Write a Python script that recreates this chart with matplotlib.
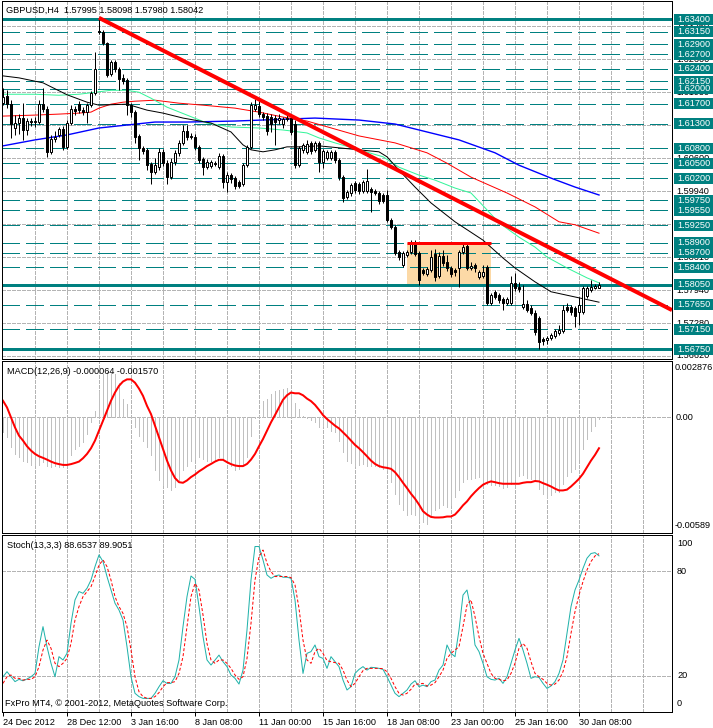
"""GBPUSD H4 chart with MACD and stochastic panes, MT4 style."""

import matplotlib
matplotlib.use('Agg')
import matplotlib.pyplot as plt
from matplotlib.patches import Rectangle
import numpy as np

plt.rcParams['font.family'] = ['Liberation Sans', 'DejaVu Sans']

opens = [
    1.6171, 1.6186, 1.6169, 1.6121, 1.6131, 1.6141, 1.6117, 1.6135, 1.6133, 1.6133,
    1.6169, 1.6159, 1.6073, 1.6099, 1.6107, 1.6119, 1.6083, 1.6131, 1.6159, 1.6169,
    1.6157, 1.6153, 1.6167, 1.6192, 1.6316, 1.6314, 1.6292, 1.6230, 1.6254, 1.6240,
    1.6222, 1.6218, 1.6167, 1.6153, 1.6105, 1.6081, 1.6077, 1.6048, 1.6032, 1.6042,
    1.6073, 1.6050, 1.6022, 1.6052, 1.6071, 1.6091, 1.6115, 1.6103, 1.6103, 1.6083,
    1.6058, 1.6042, 1.6044, 1.6050, 1.6042, 1.6065, 1.6012, 1.6026, 1.6020, 1.6012,
    1.6008, 1.6046, 1.6083, 1.6159, 1.6165, 1.6149, 1.6145, 1.6143, 1.6141, 1.6137,
    1.6129, 1.6139, 1.6141, 1.6129, 1.6046, 1.6077, 1.6073, 1.6091, 1.6077, 1.6091,
    1.6052, 1.6060, 1.6060, 1.6073, 1.6056, 1.6022, 1.5982, 1.5990, 1.6010, 1.6008,
    1.5994, 1.5994, 1.5998, 1.5994, 1.5990, 1.5986, 1.5986, 1.5936, 1.5922, 1.5871,
    1.5845, 1.5865, 1.5871, 1.5891, 1.5869, 1.5835, 1.5827, 1.5835, 1.5867, 1.5823,
    1.5863, 1.5851, 1.5839, 1.5835, 1.5839, 1.5871, 1.5883, 1.5839, 1.5845, 1.5821,
    1.5823, 1.5841, 1.5768, 1.5790, 1.5784, 1.5776, 1.5768, 1.5768, 1.5809, 1.5801,
    1.5760, 1.5766, 1.5758, 1.5748, 1.5738, 1.5696, 1.5694, 1.5698, 1.5702, 1.5708,
    1.5712, 1.5760, 1.5760, 1.5758, 1.5750, 1.5750, 1.5783, 1.5795, 1.5799, 1.57995,
]
highs = [
    1.6202, 1.6198, 1.6177, 1.6147, 1.6149, 1.6171, 1.6141, 1.6141, 1.6143, 1.6177,
    1.6202, 1.6165, 1.6107, 1.6115, 1.6123, 1.6125, 1.6137, 1.6167, 1.6165, 1.6175,
    1.6163, 1.6171, 1.6196, 1.6274, 1.6343, 1.6319, 1.6294, 1.6258, 1.6258, 1.6244,
    1.6230, 1.6222, 1.6171, 1.6157, 1.6109, 1.6085, 1.6081, 1.6052, 1.6060, 1.6081,
    1.6079, 1.6056, 1.6060, 1.6077, 1.6097, 1.6127, 1.6127, 1.6111, 1.6109, 1.6087,
    1.6062, 1.6058, 1.6056, 1.6054, 1.6071, 1.6069, 1.6032, 1.6030, 1.6024, 1.6016,
    1.6050, 1.6087, 1.6173, 1.6179, 1.6179, 1.6153, 1.6151, 1.6149, 1.6147, 1.6149,
    1.6143, 1.6147, 1.6145, 1.6137, 1.6085, 1.6091, 1.6097, 1.6095, 1.6095, 1.6095,
    1.6079, 1.6077, 1.6077, 1.6077, 1.6060, 1.6026, 1.5996, 1.6010, 1.6014, 1.6012,
    1.6016, 1.6038, 1.6002, 1.5998, 1.5994, 1.5990, 1.5996, 1.5940, 1.5926, 1.5875,
    1.5873, 1.5875, 1.5895, 1.5895, 1.5873, 1.5839, 1.5841, 1.5875, 1.5877, 1.5871,
    1.5875, 1.5865, 1.5843, 1.5839, 1.5875, 1.5889, 1.5887, 1.5851, 1.5849, 1.5835,
    1.5845, 1.5845, 1.5788, 1.5794, 1.5788, 1.5780, 1.5780, 1.5823, 1.5829, 1.5811,
    1.5805, 1.5774, 1.5764, 1.5754, 1.5742, 1.5700, 1.5702, 1.5708, 1.5716, 1.5724,
    1.5764, 1.5768, 1.5764, 1.5762, 1.5780, 1.5803, 1.5803, 1.5815, 1.5807, 1.58098,
]
lows = [
    1.6167, 1.6161, 1.6101, 1.6107, 1.6109, 1.6097, 1.6107, 1.6125, 1.6123, 1.6129,
    1.6153, 1.6063, 1.6069, 1.6093, 1.6103, 1.6077, 1.6079, 1.6127, 1.6147, 1.6151,
    1.6147, 1.6131, 1.6163, 1.6188, 1.6310, 1.6288, 1.6224, 1.6226, 1.6234, 1.6198,
    1.6210, 1.6147, 1.6143, 1.6091, 1.6056, 1.6069, 1.6036, 1.6008, 1.6028, 1.6036,
    1.6044, 1.6008, 1.6018, 1.6046, 1.6065, 1.6087, 1.6097, 1.6099, 1.6077, 1.6050,
    1.6026, 1.6038, 1.6040, 1.6044, 1.6038, 1.6000, 1.5992, 1.6010, 1.5998, 1.6000,
    1.6004, 1.6042, 1.6079, 1.6155, 1.6143, 1.6137, 1.6107, 1.6113, 1.6087, 1.6129,
    1.6121, 1.6135, 1.6107, 1.6040, 1.6042, 1.6071, 1.6069, 1.6069, 1.6073, 1.6032,
    1.6040, 1.6056, 1.6056, 1.6050, 1.6016, 1.5972, 1.5978, 1.5984, 1.5990, 1.5988,
    1.5990, 1.5990, 1.5952, 1.5986, 1.5968, 1.5970, 1.5932, 1.5918, 1.5865, 1.5855,
    1.5841, 1.5861, 1.5867, 1.5863, 1.5805, 1.5825, 1.5823, 1.5831, 1.5813, 1.5819,
    1.5843, 1.5833, 1.5821, 1.5823, 1.5801, 1.5867, 1.5835, 1.5835, 1.5831, 1.5817,
    1.5819, 1.5764, 1.5764, 1.5776, 1.5768, 1.5754, 1.5764, 1.5764, 1.5792, 1.5790,
    1.5756, 1.5750, 1.5744, 1.5704, 1.5676, 1.5684, 1.5686, 1.5694, 1.5698, 1.5704,
    1.5708, 1.5750, 1.5744, 1.5720, 1.5724, 1.5746, 1.5778, 1.5790, 1.5797, 1.57980,
]
closes = [
    1.6183, 1.6169, 1.6129, 1.6131, 1.6141, 1.6117, 1.6135, 1.6133, 1.6135, 1.6169,
    1.6159, 1.6073, 1.6099, 1.6103, 1.6119, 1.6083, 1.6131, 1.6159, 1.6155, 1.6157,
    1.6153, 1.6167, 1.6192, 1.6240, 1.6314, 1.6292, 1.6228, 1.6254, 1.6240, 1.6220,
    1.6216, 1.6167, 1.6153, 1.6103, 1.6081, 1.6075, 1.6046, 1.6032, 1.6046, 1.6073,
    1.6050, 1.6022, 1.6052, 1.6071, 1.6091, 1.6115, 1.6103, 1.6105, 1.6083, 1.6056,
    1.6042, 1.6052, 1.6052, 1.6048, 1.6065, 1.6012, 1.6026, 1.6018, 1.6004, 1.6004,
    1.6046, 1.6083, 1.6167, 1.6167, 1.6149, 1.6143, 1.6115, 1.6129, 1.6133, 1.6141,
    1.6139, 1.6141, 1.6113, 1.6046, 1.6081, 1.6087, 1.6089, 1.6075, 1.6091, 1.6052,
    1.6075, 1.6073, 1.6073, 1.6056, 1.6022, 1.5980, 1.5992, 1.6006, 1.5996, 1.5994,
    1.6012, 1.6014, 1.5992, 1.5990, 1.5974, 1.5974, 1.5936, 1.5922, 1.5869, 1.5861,
    1.5869, 1.5871, 1.5891, 1.5867, 1.5815, 1.5829, 1.5837, 1.5861, 1.5821, 1.5863,
    1.5849, 1.5839, 1.5827, 1.5831, 1.5871, 1.5881, 1.5839, 1.5843, 1.5839, 1.5831,
    1.5831, 1.5768, 1.5784, 1.5780, 1.5774, 1.5768, 1.5776, 1.5809, 1.5799, 1.5797,
    1.5766, 1.5754, 1.5748, 1.5710, 1.5690, 1.5692, 1.5698, 1.5704, 1.5712, 1.5714,
    1.5754, 1.5754, 1.5750, 1.5742, 1.5764, 1.5799, 1.5799, 1.5801, 1.5803, 1.58042,
]

# moving averages, read at a few bars each
black_ma_bars = [0, 4, 10, 16, 21, 24, 31, 36, 40, 45, 52, 57, 60, 62, 65, 68, 71, 74,
                 79, 84, 94, 96, 99, 103, 107, 113, 120, 125, 128, 133, 137, 145, 149]
black_ma = [1.6226, 1.6222, 1.6212, 1.6188, 1.6173, 1.6167, 1.6169, 1.6157, 1.6151,
            1.6141, 1.6131, 1.6113, 1.6087, 1.6077, 1.6073, 1.6077, 1.6083, 1.6083,
            1.6085, 1.6081, 1.6073, 1.6063, 1.6036, 1.6002, 1.5970, 1.5932, 1.5895,
            1.5859, 1.5839, 1.5811, 1.5791, 1.5777, 1.5770]
green_ma_bars = [0, 8, 14, 19, 23, 27, 31, 34, 37, 41, 46, 51, 57, 64, 70, 76, 79, 83,
                 89, 95, 99, 104, 108, 113, 117, 121, 124, 129, 133, 136, 141, 146, 149]
green_ma = [1.6189, 1.6189, 1.6187, 1.6189, 1.6193, 1.6197, 1.6197, 1.6193, 1.6181,
            1.6163, 1.6147, 1.6131, 1.6123, 1.6121, 1.6117, 1.6111, 1.6101, 1.6091,
            1.6077, 1.6063, 1.6042, 1.6026, 1.6016, 1.6000, 1.5990, 1.5956, 1.5930,
            1.5901, 1.5881, 1.5861, 1.5839, 1.5819, 1.5809]
red_ma_bars = [0, 8, 14, 19, 22, 24, 27, 30, 33, 38, 44, 50, 58, 64, 70, 76, 89, 98,
               106, 111, 117, 126, 133, 139, 143, 149]
red_ma = [1.6145, 1.6147, 1.6149, 1.6151, 1.6153, 1.6161, 1.6169, 1.6173, 1.6175,
          1.6177, 1.6171, 1.6167, 1.6161, 1.6153, 1.6143, 1.6135, 1.6105, 1.6091,
          1.6071, 1.6050, 1.6022, 1.5990, 1.5962, 1.5932, 1.5926, 1.5909]
blue_ma_bars = [0, 8, 16, 24, 31, 38, 46, 58, 78, 89, 98, 106, 114, 123, 129, 137, 143, 149]
blue_ma = [1.6085, 1.6097, 1.6107, 1.6121, 1.6127, 1.6133, 1.6133, 1.6135, 1.6141,
           1.6137, 1.6129, 1.6113, 1.6097, 1.6071, 1.6046, 1.6020, 1.6002, 1.5986]

levels = [1.6340, 1.6315, 1.6290, 1.6270, 1.6240, 1.6215, 1.6200, 1.6170, 1.6130,
          1.6080, 1.6050, 1.6020, 1.5975, 1.5955, 1.5925, 1.5890, 1.5870, 1.5840,
          1.5805, 1.5765, 1.5715, 1.5675]
strong_levels = [1.6340, 1.5805, 1.5675]
grid_prices = [1.6326, 1.6260, 1.6193, 1.6127, 1.6060, 1.5994, 1.5927, 1.5861,
               1.5794, 1.5728, 1.5662]

trend_bars = [24, 167.25]
trend_prices = [1.6343, 1.5754]
box_bars = [101, 122]
box_prices = [1.5805, 1.5890]

macd_main = [
    -0.00076, -0.00101, -0.00152, -0.00186, -0.00203, -0.00220, -0.00228, -0.00242, -0.00242, -0.00242,
    -0.00228, -0.00248, -0.00254, -0.00248, -0.00254, -0.00254, -0.00237, -0.00194, -0.00161, -0.00144,
    -0.00127, -0.00085, -0.00025, 0.00034, 0.00135, 0.00220, 0.00232, 0.00225, 0.00220, 0.00177,
    0.00093, 0.00068, -0.00003, -0.00051, -0.00093, -0.00118, -0.00152, -0.00194, -0.00270, -0.00321,
    -0.00346, -0.00355, -0.00372, -0.00355, -0.00321, -0.00270, -0.00245, -0.00220, -0.00211, -0.00203,
    -0.00211, -0.00220, -0.00220, -0.00220, -0.00203, -0.00211, -0.00228, -0.00245, -0.00270, -0.00262,
    -0.00237, -0.00203, -0.00093, -0.00002, 0.00008, 0.00085, 0.00093, 0.00118, 0.00135, 0.00140,
    0.00147, 0.00152, 0.00118, 0.00076, 0.00042, 0.00005, -0.00005, -0.00012, -0.00025, -0.00051,
    -0.00042, -0.00051, -0.00068, -0.00073, -0.00118, -0.00174, -0.00220, -0.00232, -0.00248, -0.00242,
    -0.00237, -0.00245, -0.00248, -0.00245, -0.00254, -0.00262, -0.00270, -0.00330, -0.00389, -0.00439,
    -0.00473, -0.00495, -0.00490, -0.00499, -0.00529, -0.00532, -0.00541, -0.00507, -0.00473, -0.00461,
    -0.00448, -0.00456, -0.00448, -0.00406, -0.00372, -0.00330, -0.00313, -0.00313, -0.00309, -0.00304,
    -0.00330, -0.00338, -0.00346, -0.00346, -0.00350, -0.00360, -0.00355, -0.00338, -0.00313, -0.00296,
    -0.00292, -0.00309, -0.00316, -0.00326, -0.00363, -0.00389, -0.00411, -0.00397, -0.00380, -0.00380,
    -0.00338, -0.00299, -0.00279, -0.00262, -0.00211, -0.00161, -0.00110, -0.00068, -0.00042, -0.000064,
]
macd_signal = [
    0.00085, 0.00051, 0.00000, -0.00051, -0.00093, -0.00118, -0.00147, -0.00169, -0.00186, -0.00198,
    -0.00206, -0.00215, -0.00225, -0.00233, -0.00238, -0.00242, -0.00242, -0.00238, -0.00232, -0.00225,
    -0.00208, -0.00186, -0.00157, -0.00118, -0.00068, -0.00017, 0.00034, 0.00085, 0.00127, 0.00161,
    0.00183, 0.00194, 0.00194, 0.00177, 0.00147, 0.00110, 0.00059, 0.00017, -0.00042, -0.00101,
    -0.00161, -0.00220, -0.00270, -0.00309, -0.00330, -0.00333, -0.00321, -0.00304, -0.00291, -0.00275,
    -0.00262, -0.00248, -0.00237, -0.00225, -0.00216, -0.00216, -0.00228, -0.00238, -0.00245, -0.00248,
    -0.00248, -0.00237, -0.00215, -0.00186, -0.00147, -0.00110, -0.00068, -0.00025, 0.00012, 0.00051,
    0.00090, 0.00113, 0.00127, 0.00123, 0.00123, 0.00113, 0.00096, 0.00083, 0.00064, 0.00039,
    0.00012, -0.00008, -0.00025, -0.00042, -0.00056, -0.00076, -0.00096, -0.00118, -0.00140, -0.00157,
    -0.00177, -0.00198, -0.00220, -0.00237, -0.00248, -0.00254, -0.00257, -0.00262, -0.00279, -0.00304,
    -0.00333, -0.00360, -0.00389, -0.00414, -0.00444, -0.00478, -0.00495, -0.00507, -0.00510, -0.00510,
    -0.00509, -0.00505, -0.00505, -0.00495, -0.00473, -0.00448, -0.00428, -0.00402, -0.00380, -0.00360,
    -0.00343, -0.00333, -0.00326, -0.00330, -0.00335, -0.00338, -0.00338, -0.00338, -0.00338, -0.00338,
    -0.00333, -0.00330, -0.00330, -0.00324, -0.00326, -0.00335, -0.00343, -0.00352, -0.00363, -0.00372,
    -0.00372, -0.00368, -0.00352, -0.00333, -0.00313, -0.00287, -0.00254, -0.00220, -0.00191, -0.00157,
]
stoch_k = [
    19.4, 22.3, 19.4, 16.6, 17.9, 17.1, 18.1, 19.4, 21.3, 36.6,
    48.1, 36.6, 27.1, 19.4, 30.9, 29.0, 32.8, 50.0, 63.4, 68.2,
    67.2, 70.1, 74.8, 82.5, 89.2, 85.4, 76.8, 69.1, 61.5, 57.6,
    51.9, 36.6, 19.4, 9.9, 8.0, 7.0, 7.0, 7.0, 9.9, 13.7,
    17.1, 15.6, 15.6, 19.4, 29.0, 48.1, 65.3, 77.1, 75.2, 59.6,
    42.4, 29.0, 26.1, 29.0, 31.8, 28.0, 25.2, 20.4, 18.5, 15.2,
    23.2, 46.2, 74.8, 94.0, 94.0, 86.3, 77.7, 75.8, 77.1, 77.7,
    76.4, 76.4, 75.8, 63.4, 40.4, 21.3, 32.8, 33.8, 37.6, 30.9,
    29.9, 24.2, 30.9, 28.0, 25.2, 17.5, 11.8, 13.7, 21.3, 23.6,
    25.2, 23.2, 24.8, 24.6, 24.2, 23.6, 19.4, 14.6, 9.9, 8.0,
    9.9, 11.8, 15.2, 17.1, 13.7, 14.6, 13.7, 16.6, 17.5, 23.2,
    26.1, 37.6, 32.8, 30.9, 46.2, 66.2, 69.1, 57.6, 37.6, 33.8,
    27.1, 19.4, 17.9, 17.5, 18.5, 15.6, 19.4, 27.1, 34.7, 41.4,
    34.7, 27.1, 18.5, 19.4, 19.0, 15.6, 12.7, 14.1, 16.6, 21.3,
    29.0, 44.3, 59.6, 69.1, 74.8, 81.5, 87.3, 90.0, 90.5, 88.65,
]
stoch_d = [
    15.6, 19.4, 20.4, 18.5, 18.5, 17.5, 17.9, 17.9, 19.4, 25.2,
    34.7, 40.4, 35.7, 27.1, 25.2, 27.1, 29.9, 38.5, 51.9, 59.6,
    65.3, 68.2, 71.0, 76.8, 83.4, 86.3, 82.5, 74.8, 65.3, 59.6,
    55.7, 48.1, 34.7, 19.4, 10.8, 8.0, 7.0, 7.0, 8.0, 10.3,
    13.7, 16.0, 16.0, 16.6, 21.3, 30.9, 48.1, 65.3, 72.9, 69.1,
    54.8, 38.5, 29.0, 27.1, 29.0, 29.0, 27.1, 24.2, 20.4, 17.9,
    19.4, 29.9, 50.0, 74.8, 88.2, 92.0, 84.4, 79.6, 76.8, 76.8,
    76.8, 76.8, 76.2, 72.0, 58.6, 40.4, 29.0, 27.1, 33.8, 35.7,
    32.8, 28.6, 28.0, 27.5, 27.1, 23.2, 17.5, 13.7, 15.6, 19.4,
    22.9, 24.2, 24.2, 24.2, 24.2, 24.0, 22.3, 18.5, 13.7, 9.9,
    8.9, 9.9, 12.2, 15.2, 15.2, 15.6, 14.1, 14.6, 16.0, 19.4,
    23.2, 29.9, 32.8, 34.7, 36.6, 48.1, 60.5, 63.4, 53.8, 42.4,
    32.8, 27.1, 21.3, 18.5, 17.9, 17.1, 17.5, 21.3, 27.1, 35.7,
    38.5, 35.7, 28.0, 21.3, 19.4, 17.9, 15.6, 14.6, 15.2, 17.5,
    22.3, 30.9, 44.3, 56.7, 66.2, 73.9, 80.6, 85.4, 88.6, 89.9,
]

tick_bars = [0, 16, 32, 48, 64, 80, 96, 112, 128, 144]
tick_labels = ['24 Dec 2012', '28 Dec 12:00', '3 Jan 16:00', '8 Jan 08:00',
               '11 Jan 00:00', '15 Jan 16:00', '18 Jan 08:00', '23 Jan 00:00',
               '25 Jan 16:00', '30 Jan 08:00']

W, H = 713, 728
PX = 0.72  # one pixel in points at dpi 100
TEAL = '#008080'
GRID = '#b4b4b4'
FS = 6.6

fig = plt.figure(figsize=(W / 100, H / 100), dpi=100)


def px_axes(left, top, right, bottom):
    return fig.add_axes([left / W, 1 - bottom / H, (right - left) / W, (bottom - top) / H])


def px_text(x, y, s, **kw):
    fig.text(x / W, 1 - y / H, s, va='center', ha='left', fontsize=FS, **kw)


x = np.arange(len(closes))
o, h, l, c = map(np.array, (opens, highs, lows, closes))
xlim = (-0.25, 167.25)
vgrid = np.arange(8, 161, 8)

ax = px_axes(2, 1, 672, 359)
ax_m = px_axes(2, 361, 672, 533)
ax_s = px_axes(2, 535, 672, 712)
for a in (ax, ax_m, ax_s):
    a.set_xlim(*xlim)
    a.set_yticks([])
    for sp in a.spines.values():
        sp.set_linewidth(PX)
    for v in vgrid:
        a.axvline(v, color=GRID, lw=PX, ls=(0, (3, 2)), zorder=0, antialiased=False)

# main window
ax.set_ylim(1.56555, 1.63769)
ax.set_xticks([])
for g in grid_prices:
    ax.axhline(g, color=GRID, lw=PX, ls=(0, (3, 2)), zorder=0, antialiased=False)
ax.add_patch(Rectangle((box_bars[0], box_prices[0]), box_bars[1] - box_bars[0],
                       box_prices[1] - box_prices[0], facecolor='#fcd9a6',
                       edgecolor='none', zorder=0.5))
for lvl in levels:
    if lvl in strong_levels:
        ax.axhline(lvl, color=TEAL, lw=3 * PX, zorder=1, antialiased=False)
    else:
        ax.axhline(lvl, color=TEAL, lw=PX, ls=(0, (18, 6)), zorder=1, antialiased=False)
ax.plot(blue_ma_bars, blue_ma, color='#0000ff', lw=1.0, zorder=2)
ax.plot(red_ma_bars, red_ma, color='#ff0000', lw=PX, zorder=2)
ax.plot(green_ma_bars, green_ma, color='#33f59a', lw=PX, zorder=2)
ax.plot(black_ma_bars, black_ma, color='black', lw=PX, zorder=2)

ax.vlines(x, l, h, color='black', lw=PX, zorder=3)
bull = c >= o
ax.bar(x, np.abs(c - o), bottom=np.minimum(o, c), width=0.5,
       color=np.where(bull, 'white', 'black'), edgecolor='black', lw=PX, zorder=4)

ax.plot(box_bars, [box_prices[1]] * 2, color='#ff0000', lw=3 * PX, zorder=5,
        solid_capstyle='butt')
ax.plot(trend_bars, trend_prices, color='#ff0000', lw=4 * PX, zorder=5,
        solid_capstyle='butt')
px_text(6, 10, 'GBPUSD,H4  1.57995 1.58098 1.57980 1.58042')

# price scale
ax_r = px_axes(672, 1, 713, 359)
ax_r.set_xlim(0, 41)
ax_r.set_ylim(ax.get_ylim())
ax_r.axis('off')
for g in grid_prices:
    ax_r.text(4, g, f'{g:.5f}', va='center', fontsize=FS, color='black')
for lvl in levels:
    ax_r.add_patch(Rectangle((2, lvl - 0.0011), 41, 0.0022, facecolor=TEAL,
                             edgecolor='none', zorder=3))
    ax_r.text(5, lvl, f'{lvl:.5f}', va='center', fontsize=FS, color='white', zorder=4)

# MACD window
ax_m.set_ylim(-0.00589, 0.002876)
ax_m.set_xticks([])
ax_m.axhline(0, color=GRID, lw=PX, ls=(0, (3, 2)), zorder=0, antialiased=False)
ax_m.vlines(x, 0, macd_main, color='#c0c0c0', lw=PX, zorder=1, antialiased=False)
ax_m.plot(x, macd_signal, color='#ff0000', lw=2 * PX, zorder=2)
px_text(7, 372, 'MACD(12,26,9) -0.000064 -0.001570')
px_text(675, 368, '0.002876')
px_text(676, 418, '0.00')
px_text(675, 526, '-0.00589')

# Stochastic window
ax_s.set_ylim(-0.8, 100.6)
for v in (20, 80):
    ax_s.axhline(v, color=GRID, lw=PX, ls=(0, (3, 2)), zorder=0, antialiased=False)
ax_s.plot(x, stoch_k, color='#20b2aa', lw=PX, zorder=2)
ax_s.plot(x, stoch_d, color='#ff0000', lw=PX, ls=(0, (3, 2)), zorder=2)
px_text(7, 546, 'Stoch(13,3,3) 88.6537 89.9051')
px_text(5, 704, 'FxPro MT4, \u00a9 2001-2012, MetaQuotes Software Corp.')
for val, yy in (('100', 543), ('80', 571), ('20', 676), ('0', 704)):
    px_text(677, yy, val)

ax_s.set_xticks(tick_bars)
ax_s.set_xticklabels(tick_labels, ha='left', fontsize=FS)
ax_s.tick_params(axis='x', length=4 * PX, width=PX, pad=1.5)

fig.savefig('out.png', dpi=100, facecolor='white')
print('saved out.png')
